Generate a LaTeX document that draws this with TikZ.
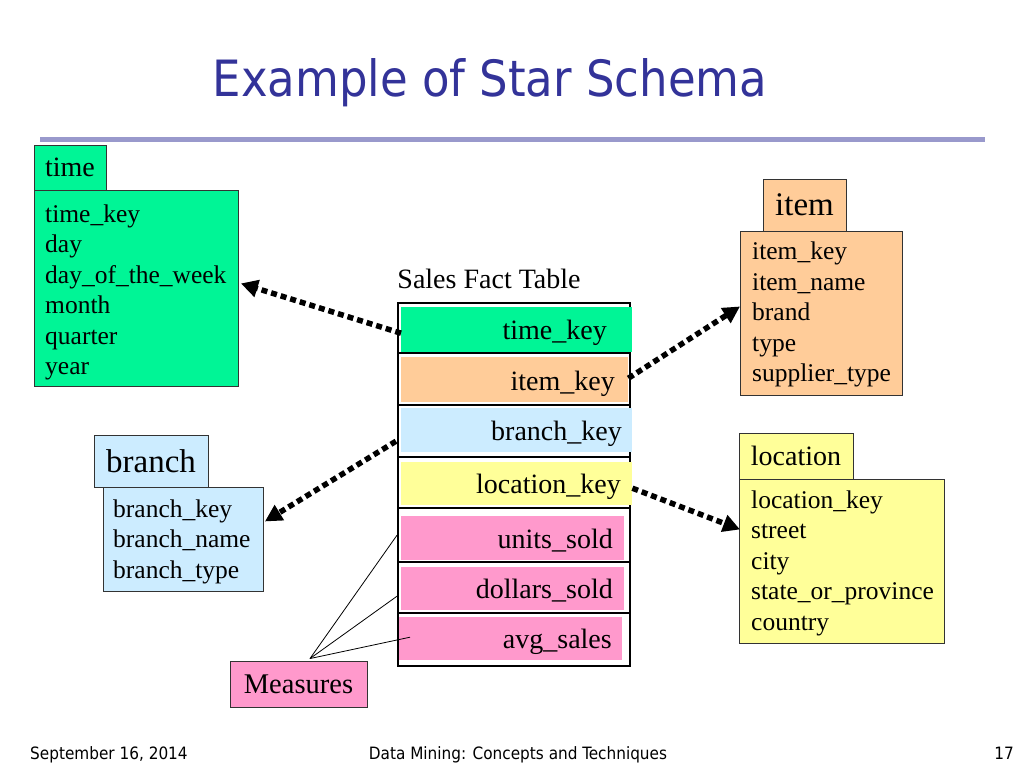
\documentclass[tikz,border=0pt]{standalone}
\usepackage{fontspec}
\setmainfont{Liberation Serif}
\newfontfamily\titlefont{DejaVu Sans Condensed}
\usetikzlibrary{arrows.meta}
\definecolor{tgreen}{RGB}{0,245,150}
\definecolor{tpeach}{RGB}{255,204,153}
\definecolor{tblue}{RGB}{204,236,255}
\definecolor{tyellow}{RGB}{255,255,153}
\definecolor{tpink}{RGB}{255,153,204}
\definecolor{ttitle}{RGB}{51,51,153}
\definecolor{trule}{RGB}{153,153,204}
\begin{document}
\begin{tikzpicture}[x=1pt,y=-1pt,
  tbox/.style={draw=black!80, line width=0.9pt, inner sep=0pt, anchor=north west},
  hbox/.style={draw=black!80, line width=0.9pt, inner sep=0pt},
  field/.style={anchor=base west, inner sep=0pt, font=\fontsize{25.5}{30}\selectfont},
  rowfill/.style={inner sep=0pt, anchor=north west},
  rowtext/.style={anchor=base east, inner sep=0pt, font=\fontsize{28}{33}\selectfont},
  fk/.style={line width=5.5pt, dash pattern=on 6pt off 4pt, -{Triangle[length=17pt,width=17pt]}},
  mline/.style={line width=0.8pt},
  foot/.style={font=\titlefont\fontsize{17}{20}\selectfont, inner sep=0pt}
]
\useasboundingbox (0,0) rectangle (1024,768);

% title and rule
\node[font=\titlefont\fontsize{50}{56}\selectfont, text=ttitle, anchor=base, inner sep=0pt] (title) at (490,96) {Example of Star Schema};
\draw[trule, line width=5pt] (40,139) coordinate (rl) -- (985,139) coordinate (rr);

% time dimension
\node[tbox, fill=tgreen, minimum width=204pt, minimum height=196pt] (tbody) at (34,190) {};
\node[hbox, fill=tgreen, minimum width=72pt, minimum height=45pt, font=\fontsize{28}{33}\selectfont] (thead) at (70,167.5) {time};
\foreach \t [count=\i from 0] in {time\_key, day, day\_of\_the\_week, month, quarter, year}
  \node[field, name=tf\i] at (45,{222+30.5*\i}) {\t};

% item dimension
\node[tbox, fill=tpeach, minimum width=162pt, minimum height=164pt] (ibody) at (740,231) {};
\node[hbox, fill=tpeach, minimum width=83pt, minimum height=52pt, font=\fontsize{33}{38}\selectfont] (ihead) at (804.5,205) {item};
\foreach \t [count=\i from 0] in {item\_key, item\_name, brand, type, supplier\_type}
  \node[field, name=if\i] at (752,{259.5+30.5*\i}) {\t};

% branch dimension
\node[tbox, fill=tblue, minimum width=160pt, minimum height=104pt] (bbody) at (103,487) {};
\node[hbox, fill=tblue, minimum width=114pt, minimum height=52pt, font=\fontsize{33}{38}\selectfont] (bhead) at (151,461) {branch};
\foreach \t [count=\i from 0] in {branch\_key, branch\_name, branch\_type}
  \node[field, name=bf\i] at (113,{517+30.5*\i}) {\t};

% location dimension
\node[tbox, fill=tyellow, minimum width=205pt, minimum height=164pt] (lbody) at (739,479) {};
\node[hbox, fill=tyellow, minimum width=114pt, minimum height=46pt, font=\fontsize{28}{33}\selectfont] (lhead) at (796,456) {location};
\foreach \t [count=\i from 0] in {location\_key, street, city, state\_or\_province, country}
  \node[field, name=lf\i] at (751,{508+30.5*\i}) {\t};

% fact table
\node[anchor=base, inner sep=0pt, font=\fontsize{28}{33}\selectfont] (ftitle) at (489,288) {Sales Fact Table};
\node[draw=black, line width=1.8pt, fill=white, inner sep=0pt, anchor=north west, minimum width=232pt, minimum height=363pt] (fact) at (397,302) {};
\foreach \yy in {353,405,457,508,562,613}
  \draw[line width=1.8pt] (397,\yy) -- (629,\yy);

\node[rowfill, fill=tgreen, minimum width=231pt, minimum height=45pt] (rtime) at (401,307) {};
\node[rowfill, fill=tpeach, minimum width=227pt, minimum height=45pt] (ritem) at (401,357) {};
\node[rowfill, fill=tblue, minimum width=231pt, minimum height=44pt] (rbranch) at (401,408) {};
\node[rowfill, fill=tyellow, minimum width=231pt, minimum height=43pt] (rloc) at (401,462) {};
\node[rowfill, fill=tpink, minimum width=223pt, minimum height=44pt] (runits) at (401,516) {};
\node[rowfill, fill=tpink, minimum width=223pt, minimum height=43pt] (rdollars) at (401,567) {};
\node[rowfill, fill=tpink, minimum width=223pt, minimum height=43pt] (ravg) at (399,617) {};

\node[rowtext] (xtime) at (607,339) {time\_key};
\node[rowtext] (xitem) at (615,390) {item\_key};
\node[rowtext] (xbranch) at (622,440) {branch\_key};
\node[rowtext] (xloc) at (621,493) {location\_key};
\node[rowtext] (xunits) at (613,548) {units\_sold};
\node[rowtext] (xdollars) at (613,598) {dollars\_sold};
\node[rowtext] (xavg) at (612,648) {avg\_sales};

% measures
\node[hbox, fill=tpink, minimum width=137pt, minimum height=46pt, font=\fontsize{28.5}{33}\selectfont] (meas) at (298.5,684) {Measures};
\draw[mline] ([shift={(11.5pt,2pt)}]meas.north) -- ([shift={(-4pt,3pt)}]runits.west);
\draw[mline] ([shift={(11.5pt,2pt)}]meas.north) -- ([shift={(-4pt,-7.5pt)}]rdollars.west);
\draw[mline] ([shift={(11.5pt,2pt)}]meas.north) -- ([shift={(11pt,1.5pt)}]ravg.west);

% foreign key arrows
\draw[fk] ([yshift=-3.5pt]rtime.west) -- ([shift={(2pt,5pt)}]tbody.east);
\draw[fk] ([yshift=1.5pt]ritem.east) -- ([yshift=7pt]ibody.west);
\draw[fk] ([shift={(-5pt,-11pt)}]rbranch.west) -- ([shift={(1pt,18pt)}]bbody.east);
\draw[fk] ([shift={(0pt,-4.5pt)}]rloc.east) -- ([shift={(1pt,32pt)}]lbody.west);

% footer
\node[foot, anchor=base west] (fdate) at (30,759) {September 16, 2014};
\node[foot, anchor=base] (fcourse) at (518,759) {Data Mining: Concepts and Techniques};
\node[foot, anchor=base east] (fpage) at (1014,759) {17};
\end{tikzpicture}
\end{document}
